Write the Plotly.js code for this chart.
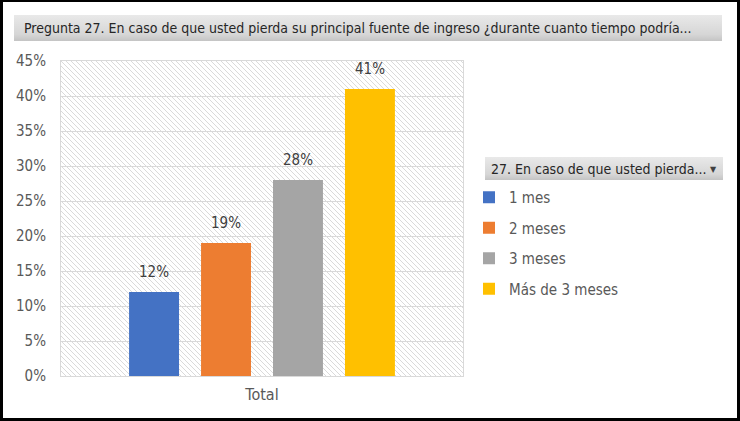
<!DOCTYPE html>
<html><head><meta charset="utf-8">
<script src="https://cdn.plot.ly/plotly-3.0.1.min.js"></script>
<style>
html,body{margin:0;padding:0;background:#fff;}
#wrap{position:relative;width:740px;height:421px;}
#chart{position:absolute;left:0;top:0;width:740px;height:421px;}
#frame{position:absolute;left:0;top:0;width:740px;height:421px;box-sizing:border-box;border:3px solid #000;border-top-width:2px;pointer-events:none;}
</style></head>
<body><div id="wrap"><div id="chart"></div><div id="frame"></div></div>
<script>
const categories = ['Total'];
const seriesNames = ['1 mes', '2 meses', '3 meses', 'Más de 3 meses'];
const seriesValues = [0.12, 0.19, 0.28, 0.41];
const seriesColors = ['#4472C4', '#ED7D31', '#A5A5A5', '#FFC000'];
const chartTitle = 'Pregunta 27. En caso de que usted pierda su principal fuente de ingreso ¿durante cuanto tiempo podría...';
const legendHeader = '27. En caso de que usted pierda...';

const FONT = '"DejaVu Sans Condensed", "DejaVu Sans", sans-serif';
const W = 740, H = 421;
const L = 61, R = 277, T = 61, B = 45;
const pw = W - L - R, ph = H - T - B;
const bargap = 0.284, bargroupgap = 0.306;

const px2x = p => (p - L) / pw;
const py2y = p => (H - B - p) / ph;

function svgUri(s){ return 'data:image/svg+xml;charset=utf-8,' + encodeURIComponent(s); }
const hatch = svgUri(`<svg xmlns="http://www.w3.org/2000/svg" width="${pw}" height="${ph}"><defs><pattern id="p" width="5" height="5" patternUnits="userSpaceOnUse"><path d="M-1,-1 L6,6 M-1,4 L1,6 M4,-1 L6,1" stroke="#dadada" stroke-width="1"/></pattern></defs><rect width="100%" height="100%" fill="#fff"/><rect width="100%" height="100%" fill="url(#p)"/></svg>`);
const grad = (w,h) => svgUri(`<svg xmlns="http://www.w3.org/2000/svg" width="${w}" height="${h}"><defs><linearGradient id="g" x1="0" y1="0" x2="0" y2="1"><stop offset="0" stop-color="#e9e9e9"/><stop offset="0.75" stop-color="#d6d6d6"/><stop offset="1" stop-color="#c4c4c4"/></linearGradient></defs><rect width="100%" height="100%" fill="url(#g)"/></svg>`);

const traces = seriesNames.map((n, i) => ({
  type: 'bar', name: n, x: categories, y: [seriesValues[i]],
  marker: {color: seriesColors[i]}, legendgroup: 'g' + i,
  hoverinfo: 'skip'
}));

// data label annotations placed via axis coordinates
const slot = (1 - bargap) / seriesNames.length;
const annotations = seriesValues.map((v, i) => ({
  xref: 'x', yref: 'y', x: -(1 - bargap) / 2 + slot * (i + 0.5), y: v,
  text: Math.round(v * 100) + '%', showarrow: false, yanchor: 'bottom', yshift: 9,
  font: {family: FONT, size: 15, color: '#404040'}
}));
annotations.push({
  xref: 'paper', yref: 'paper', x: px2x(22), y: py2y(28), xanchor: 'left', yanchor: 'middle',
  text: chartTitle, showarrow: false, font: {family: FONT, size: 14, color: '#262626'}
});
annotations.push({
  xref: 'paper', yref: 'paper', x: px2x(489), y: py2y(169), xanchor: 'left', yanchor: 'middle',
  text: legendHeader, showarrow: false, font: {family: FONT, size: 14, color: '#262626'}
});
annotations.push({
  xref: 'paper', yref: 'paper', x: px2x(713), y: py2y(169), xanchor: 'center', yanchor: 'middle',
  text: '▼', showarrow: false, font: {family: 'DejaVu Sans', size: 8, color: '#404040'}
});

const layout = {
  width: W, height: H,
  margin: {l: L, r: R, t: T, b: B},
  paper_bgcolor: '#fff', plot_bgcolor: 'rgba(0,0,0,0)',
  barmode: 'group', bargap: bargap, bargroupgap: bargroupgap,
  font: {family: FONT, size: 15, color: '#595959'},
  showlegend: true,
  legend: {
    x: px2x(469), y: py2y(181), xanchor: 'left', yanchor: 'top',
    traceorder: 'grouped', tracegroupgap: 8, itemwidth: 30,
    font: {family: FONT, size: 15, color: '#595959'}, bgcolor: 'rgba(0,0,0,0)'
  },
  xaxis: {
    type: 'category', showgrid: false, zeroline: false,
    showline: true, mirror: true, linecolor: '#d9d9d9', linewidth: 1,
    ticks: '', tickfont: {family: FONT, size: 16, color: '#595959'}, ticklabelstandoff: 4
  },
  yaxis: {
    range: [0, 0.45], dtick: 0.05, tickformat: '.0%',
    showgrid: true, gridcolor: '#d9d9d9', gridwidth: 1, zeroline: false,
    showline: true, mirror: true, linecolor: '#d9d9d9', linewidth: 1,
    ticks: '', tickfont: {family: FONT, size: 15, color: '#595959'}, ticklabelstandoff: 11
  },
  images: [
    {source: hatch, xref: 'paper', yref: 'paper', x: 0, y: 1, sizex: 1, sizey: 1,
     sizing: 'stretch', xanchor: 'left', yanchor: 'top', layer: 'below'},
    {source: grad(708, 26), xref: 'paper', yref: 'paper', x: px2x(14), y: py2y(15),
     sizex: 708 / pw, sizey: 26 / ph, sizing: 'stretch', xanchor: 'left', yanchor: 'top', layer: 'below'},
    {source: grad(238, 23), xref: 'paper', yref: 'paper', x: px2x(485), y: py2y(157),
     sizex: 238 / pw, sizey: 23 / ph, sizing: 'stretch', xanchor: 'left', yanchor: 'top', layer: 'below'}
  ],
  annotations: annotations
};

Plotly.newPlot('chart', traces, layout, {displayModeBar: false, staticPlot: true});
</script></body></html>
